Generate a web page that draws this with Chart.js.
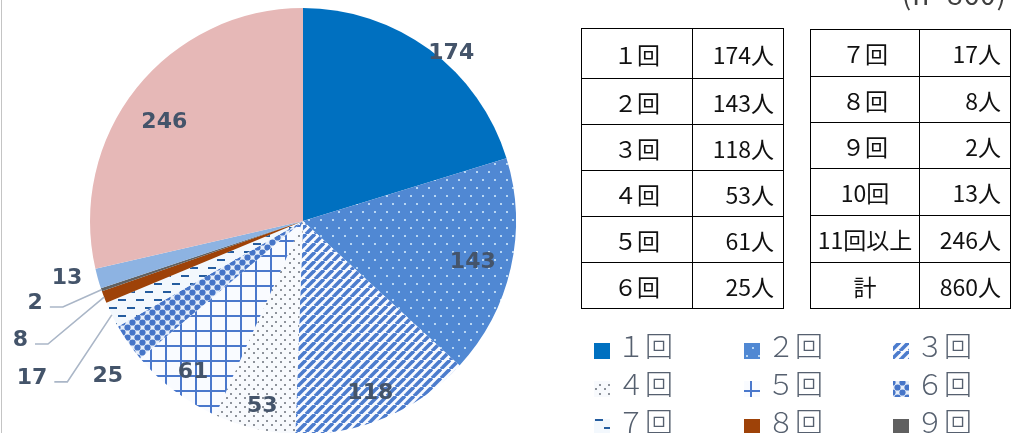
<!DOCTYPE html>
<html lang="ja">
<head>
<meta charset="utf-8">
<script src="https://cdn.jsdelivr.net/npm/chart.js@4/dist/chart.umd.min.js"></script>
<style>
  html, body { margin: 0; padding: 0; background: #fff; overflow: hidden; }
  #wrap { position: relative; width: 1011px; height: 433px; overflow: hidden; }
  #holder { position: absolute; left: 0; top: 0; width: 1011px; height: 440px; }
  #edge { position: absolute; left: 1px; top: 0; width: 1px; height: 433px; background: #c4c4c4; }
  #n { position: absolute; right: 4px; top: -27px; font: 28px "Noto Sans CJK JP", sans-serif;
       color: #404040; letter-spacing: 1px; white-space: nowrap; }
  table.t { position: absolute; border-collapse: collapse; table-layout: fixed;
            font: 23px "Noto Sans CJK JP", sans-serif; color: #111; }
  table.t td { border: 1px solid #000; padding: 0; }
  table.t td.k { text-align: center; }
  table.t td.v { text-align: right; padding-right: 9px; }
</style>
</head>
<body>
<div id="wrap">
  <div id="holder"><canvas id="pie"></canvas></div>
  <div id="edge"></div>
  <div id="n"></div>
  <table class="t" id="t1" style="left:581px; top:28px; width:203px;"></table>
  <table class="t" id="t2" style="left:810px; top:29px; width:201px;"></table>
</div>
<script>
// 受講回数別の人数
const categories = ['１回', '２回', '３回', '４回', '５回', '６回', '７回', '８回', '９回', '10回', '11回以上'];
const counts     = [174, 143, 118, 53, 61, 25, 17, 8, 2, 13, 246];
const unit       = '人';
const totalLabel = '計';
const totalCount = 860;
const nLabel     = '(n=860)';

// where Excel put each data label: offset from slice mid-angle (deg) and radius fraction
const labelPlace = [
  { da: 5.1, f: 1.05 }, { da: 0.8, f: 0.82 }, { da: 1.3, f: 0.87 }, { da: -0.8, f: 0.89 },
  { da: -1.1, f: 0.88 }, { da: -3.5, f: 1.17 }, { da: -3.9, f: 1.47, leader: true },
  { da: -1.9, f: 1.44, leader: true }, { da: 1.8, f: 1.315, leader: true },
  { da: 2.1, f: 1.14 }, { da: -3, f: 0.80 }
];

document.getElementById('n').textContent = nLabel;

// —— tables ——
const row = (k, v) => `<tr><td class="k">${k}</td><td class="v">${v}${unit}</td></tr>`;
const t1 = document.getElementById('t1');
const t2 = document.getElementById('t2');
const h1 = [50, 46, 46, 46, 46, 46];
const h2 = [47, 46, 46, 47, 47, 46];
t1.innerHTML = '<colgroup><col style="width:111px"><col></colgroup>' +
  categories.slice(0, 6).map((c, i) => row(c, counts[i])).join('');
t2.innerHTML = '<colgroup><col style="width:109px"><col></colgroup>' +
  categories.slice(6).map((c, i) => row(c, counts[i + 6])).join('') + row(totalLabel, totalCount);
[...t1.rows].forEach((r, i) => r.style.height = h1[i] + 'px');
[...t2.rows].forEach((r, i) => r.style.height = h2[i] + 'px');

// —— fill patterns ——
function tile(w, h, draw) {
  const c = document.createElement('canvas');
  c.width = w; c.height = h;
  const g = c.getContext('2d');
  draw(g, w, h);
  return g.createPattern(c, 'repeat');
}
const fills = [
  '#0070c0',
  tile(12, 16, g => {               // dotted blue
    g.fillStyle = '#5088d3'; g.fillRect(0, 0, 12, 16);
    g.fillStyle = '#b8d6f3'; g.fillRect(2, 3, 2, 2); g.fillRect(8, 11, 2, 2);
  }),
  tile(9, 9, g => {                 // wide upward diagonal
    g.fillStyle = '#fbfcff'; g.fillRect(0, 0, 9, 9);
    g.strokeStyle = '#4c7ccd'; g.lineWidth = 3.6;
    for (let k = -1; k <= 1; k++) { g.beginPath(); g.moveTo(k * 9, 9); g.lineTo(k * 9 + 9, 0); g.stroke(); }
  }),
  tile(9, 9, g => {                 // grey dots
    g.fillStyle = '#f8fafd'; g.fillRect(0, 0, 9, 9);
    g.fillStyle = '#8e939b'; g.fillRect(1, 1, 2, 2); g.fillRect(5, 6, 2, 2);
  }),
  tile(15, 15, g => {               // large grid
    g.fillStyle = '#f9fbff'; g.fillRect(0, 0, 15, 15);
    g.fillStyle = '#4a78cc'; g.fillRect(0, 0, 2, 15); g.fillRect(0, 0, 15, 2);
  }),
  tile(10, 10, g => {               // spheres
    g.fillStyle = '#e6eef9'; g.fillRect(0, 0, 10, 10);
    g.fillStyle = '#4675c8';
    [[2.5, 2.5], [7.5, 7.5], [-2.5, 7.5], [7.5, -2.5], [12.5, 2.5], [2.5, 12.5], [-2.5, -2.5], [12.5, 12.5]].forEach(([x, y]) => {
      g.beginPath(); g.arc(x, y, 3.1, 0, Math.PI * 2); g.fill();
    });
  }),
  tile(18, 16, g => {               // dashed horizontal
    g.fillStyle = '#f3f8fd'; g.fillRect(0, 0, 18, 16);
    g.fillStyle = '#245c9e';
    g.fillRect(1, 3, 8, 2); g.fillRect(10, 11, 8, 2);
  }),
  '#9e4208',
  '#606060',
  '#8db3e2',
  '#e6b8b7'
];

// —— data labels & leader lines ——
const labelPlugin = {
  id: 'pieLabels',
  afterDatasetsDraw(chart) {
    const ctx = chart.ctx;
    const arcs = chart.getDatasetMeta(0).data;
    ctx.save();
    ctx.font = 'bold 22px "DejaVu Sans", sans-serif';
    ctx.textAlign = 'center';
    ctx.textBaseline = 'middle';
    arcs.forEach((arc, i) => {
      const { x, y, startAngle, endAngle, outerRadius } = arc.getProps(['x', 'y', 'startAngle', 'endAngle', 'outerRadius'], true);
      const mid = (startAngle + endAngle) / 2;
      const p = labelPlace[i];
      const a = mid + p.da * Math.PI / 180;
      const lx = x + Math.cos(a) * outerRadius * p.f;
      const ly = y + Math.sin(a) * outerRadius * p.f;
      const txt = String(counts[i]);
      if (p.leader) {
        const w = ctx.measureText(txt).width;
        const sx = lx + w / 2 + 7, sy = ly + 4;
        ctx.strokeStyle = '#aab6c7';
        ctx.lineWidth = 1.6;
        ctx.beginPath();
        ctx.moveTo(sx, sy);
        ctx.lineTo(sx + 13, sy);
        ctx.lineTo(x + Math.cos(mid) * outerRadius, y + Math.sin(mid) * outerRadius);
        ctx.stroke();
      }
      ctx.fillStyle = '#44546a';
      ctx.fillText(txt, lx, ly);
    });
    ctx.restore();
  }
};

// —— legend (3 columns) ——
const legendPlugin = {
  id: 'gridLegend',
  afterDraw(chart) {
    const ctx = chart.ctx;
    const colX = [594, 744, 893];
    const rowY = [351, 389, 427];
    ctx.save();
    ctx.font = '300 28px "Noto Sans CJK JP", sans-serif';
    ctx.textBaseline = 'middle';
    categories.slice(0, 9).forEach((c, i) => {
      const cx = colX[i % 3], cy = rowY[Math.floor(i / 3)];
      ctx.fillStyle = fills[i];
      ctx.fillRect(cx, cy - 8, 16, 16);
      ctx.fillStyle = '#56606f';
      ctx.fillText(c, cx + 23, cy - 5);
    });
    ctx.restore();
  }
};

new Chart(document.getElementById('pie'), {
  type: 'pie',
  data: {
    labels: categories,
    datasets: [{
      data: counts,
      backgroundColor: fills,
      borderWidth: 0
    }]
  },
  options: {
    responsive: true,
    maintainAspectRatio: false,
    animation: false,
    layout: { padding: { top: 8, bottom: 6, left: 90, right: 495 } },
    plugins: {
      legend: { display: false },
      tooltip: { enabled: false }
    }
  },
  plugins: [labelPlugin, legendPlugin]
});
</script>
</body>
</html>
